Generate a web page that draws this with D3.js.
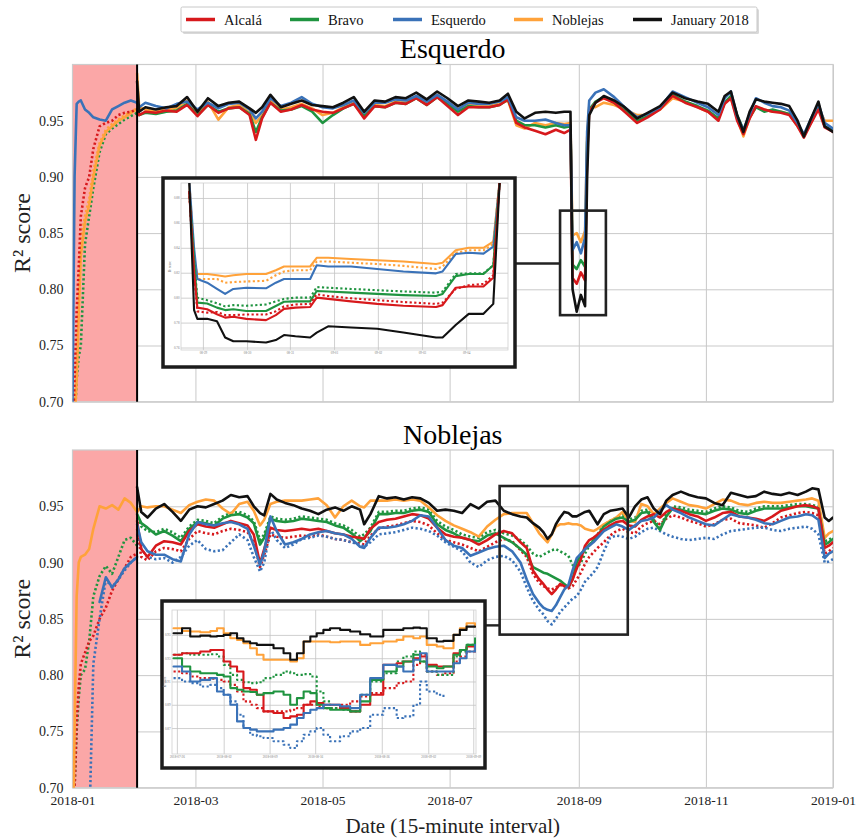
<!DOCTYPE html>
<html><head><meta charset="utf-8">
<script src="https://cdn.jsdelivr.net/npm/d3@7"></script>
<style>
body{margin:0;background:#fff}
svg{display:block}
text{font-family:"Liberation Serif","DejaVu Serif",serif}
</style>
</head><body>
<svg id="c" width="860" height="840"></svg>
<script>
// ---------------- DATA ----------------
const NAMES = ["Alcalá","Bravo","Esquerdo","Noblejas","January 2018"];
const COLORS = ["#d7191c","#1f9440","#3a72b8","#ffa23a","#111111"];
const Y_TICKS = [0.70,0.75,0.80,0.85,0.90,0.95];
const Y_DOMAIN = [0.70,1.00];
const TRAIN_END_DAY = 31; // 2018-02-01

// ----- Esquerdo panel -----
const TOP_JAN_DAYS = [0,1,2,3,4,6,8,10,13,16,19,22,25,28,31];
const topJanEsquerdo    = [0.70,0.90,0.965,0.967,0.968,0.960,0.957,0.953,0.951,0.950,0.960,0.963,0.966,0.968,0.966];
const topJanAlcalaDot   = [0.66,0.72,0.78,0.82,0.865,0.890,0.900,0.925,0.945,0.948,0.950,0.955,0.957,0.958,0.960];
const topJanNoblejas    = [0.62,0.68,0.72,0.78,0.83,0.86,0.875,0.900,0.928,0.940,0.945,0.950,0.953,0.957,0.960];
const topJanNoblejasDot = [0.64,0.70,0.74,0.80,0.845,0.865,0.880,0.905,0.930,0.942,0.947,0.951,0.955,0.958,0.961];
const topJanBravoDot    = [0.62,0.68,0.72,0.74,0.75,0.84,0.865,0.890,0.922,0.938,0.943,0.947,0.951,0.954,0.957];

const TOP_DAYS = [31,32,35,40,45,50,55,60,65,70,75,80,85,88,91,95,100,105,110,115,120,125,130,135,140,145,150,155,160,165,170,175,180,185,190,195,200,205,209,213,217,222,227,232,236,239,240,242,244,246,247,248,251,255,260,265,271,276,282,288,294,300,305,310,313,316,319,322,325,328,332,336,340,344,348,351,354,358,361,365];
const topJanuary = [0.985,0.958,0.962,0.960,0.962,0.963,0.971,0.958,0.970,0.963,0.966,0.967,0.961,0.957,0.962,0.973,0.962,0.965,0.968,0.964,0.963,0.962,0.966,0.971,0.958,0.968,0.967,0.971,0.970,0.975,0.969,0.976,0.970,0.963,0.968,0.967,0.966,0.968,0.974,0.958,0.952,0.957,0.958,0.957,0.958,0.958,0.800,0.780,0.795,0.785,0.900,0.955,0.966,0.972,0.968,0.962,0.952,0.957,0.963,0.975,0.970,0.967,0.965,0.958,0.972,0.976,0.955,0.940,0.958,0.969,0.967,0.966,0.965,0.963,0.950,0.936,0.950,0.967,0.945,0.940];
const topEsquerdo = [0.966,0.962,0.966,0.963,0.961,0.965,0.967,0.960,0.966,0.961,0.965,0.966,0.960,0.952,0.958,0.970,0.963,0.966,0.971,0.965,0.962,0.961,0.964,0.968,0.957,0.966,0.966,0.969,0.968,0.972,0.967,0.973,0.967,0.960,0.966,0.965,0.965,0.967,0.971,0.953,0.950,0.950,0.951,0.948,0.946,0.946,0.835,0.842,0.832,0.846,0.940,0.968,0.975,0.978,0.971,0.962,0.953,0.956,0.962,0.976,0.971,0.966,0.962,0.955,0.970,0.976,0.954,0.942,0.956,0.970,0.966,0.963,0.962,0.959,0.948,0.938,0.950,0.965,0.948,0.943];
const topAlcala = [0.960,0.955,0.958,0.957,0.959,0.958,0.964,0.954,0.964,0.957,0.961,0.962,0.955,0.933,0.952,0.966,0.958,0.960,0.964,0.960,0.958,0.957,0.961,0.965,0.952,0.963,0.962,0.966,0.965,0.970,0.964,0.971,0.963,0.955,0.962,0.962,0.962,0.964,0.969,0.948,0.944,0.941,0.938,0.942,0.939,0.942,0.810,0.805,0.815,0.808,0.920,0.958,0.966,0.970,0.966,0.958,0.948,0.953,0.960,0.972,0.966,0.962,0.958,0.950,0.965,0.970,0.950,0.938,0.952,0.963,0.960,0.958,0.957,0.955,0.945,0.935,0.946,0.960,0.944,0.940];
const topBravo = [0.957,0.955,0.957,0.956,0.958,0.959,0.965,0.955,0.964,0.958,0.961,0.962,0.956,0.940,0.953,0.966,0.959,0.960,0.963,0.958,0.948,0.955,0.961,0.965,0.954,0.963,0.962,0.966,0.965,0.970,0.964,0.971,0.965,0.958,0.963,0.962,0.962,0.964,0.969,0.950,0.946,0.946,0.944,0.946,0.944,0.945,0.822,0.818,0.826,0.820,0.930,0.960,0.967,0.971,0.966,0.959,0.950,0.954,0.961,0.973,0.967,0.963,0.959,0.952,0.966,0.972,0.955,0.942,0.953,0.962,0.958,0.960,0.958,0.956,0.946,0.936,0.947,0.962,0.945,0.941];
const topNoblejas = [0.992,0.962,0.960,0.958,0.960,0.961,0.968,0.956,0.967,0.951,0.962,0.964,0.957,0.948,0.955,0.968,0.960,0.962,0.965,0.961,0.955,0.957,0.962,0.967,0.955,0.964,0.963,0.967,0.966,0.971,0.965,0.973,0.966,0.960,0.964,0.963,0.963,0.965,0.968,0.946,0.943,0.948,0.946,0.948,0.947,0.948,0.848,0.850,0.842,0.852,0.935,0.962,0.962,0.966,0.964,0.960,0.955,0.955,0.960,0.970,0.967,0.962,0.958,0.952,0.966,0.970,0.952,0.936,0.953,0.962,0.960,0.958,0.958,0.956,0.945,0.937,0.948,0.962,0.950,0.950];

// zoom window of the Esquerdo panel (days, R²)
const topZoomDays = [234,256];
const topZoomVals = [0.777,0.870];
const topConnectVal = 0.823;

// inset of the Esquerdo panel (x: % of zoom window)
const TI_T = [2.5,4,5,8,11,13.5,16,20,26,29,31.5,35,39.5,41.5,45,52,60,68,78,80,84,88,92.5,95.5,97.5];
const tiJanuary    = [0.895,0.790,0.783,0.783,0.781,0.768,0.765,0.765,0.764,0.766,0.770,0.769,0.768,0.772,0.777,0.776,0.775,0.772,0.768,0.768,0.778,0.787,0.787,0.795,0.895];
const tiNoblejas   = [0.895,0.830,0.819,0.819,0.818,0.817,0.818,0.819,0.819,0.822,0.825,0.825,0.825,0.832,0.832,0.831,0.830,0.829,0.827,0.828,0.838,0.840,0.840,0.845,0.895];
const tiNoblejasDot= [0.895,0.830,0.815,0.815,0.815,0.812,0.8125,0.813,0.8135,0.818,0.821,0.822,0.822,0.829,0.829,0.828,0.827,0.8255,0.823,0.825,0.836,0.838,0.838,0.843,0.895];
const tiEsquerdo   = [0.895,0.840,0.815,0.812,0.807,0.803,0.807,0.808,0.8075,0.812,0.815,0.815,0.815,0.826,0.825,0.825,0.823,0.821,0.8195,0.821,0.835,0.836,0.8353,0.841,0.895];
const tiBravo      = [0.885,0.830,0.796,0.7953,0.792,0.790,0.7907,0.7893,0.7893,0.7933,0.7967,0.797,0.797,0.8053,0.805,0.804,0.803,0.802,0.8013,0.803,0.8173,0.819,0.819,0.826,0.895];
const tiBravoDot   = [0.885,0.830,0.800,0.798,0.7955,0.793,0.794,0.7935,0.7945,0.797,0.799,0.800,0.800,0.8085,0.808,0.807,0.806,0.805,0.804,0.805,0.819,0.8195,0.8195,0.826,0.895];
const tiAlcala     = [0.885,0.820,0.792,0.7907,0.7867,0.784,0.7847,0.783,0.782,0.786,0.791,0.792,0.7925,0.800,0.799,0.797,0.795,0.7935,0.7925,0.794,0.808,0.809,0.809,0.816,0.895];
const tiAlcalaDot  = [0.885,0.820,0.789,0.788,0.7885,0.786,0.786,0.7865,0.7865,0.789,0.793,0.7945,0.795,0.8027,0.8013,0.7995,0.798,0.7965,0.795,0.796,0.807,0.810,0.811,0.818,0.895];
const TI_Y_DOMAIN = [0.758,0.892];
const TI_Y_TICKS = [0.76,0.78,0.80,0.82,0.84,0.86,0.88];
const TI_X_TICKS = [6.7,20.2,33.3,46.8,60.2,73.7,87.2];
const TI_X_LABELS = ["08-29","08-30","08-31","09-01","09-02","09-03","09-04"];

// ----- Noblejas panel -----
const BOT_JAN_DAYS = [0,1,2,3,4,6,8,10,13,16,19,22,25,28,31];
const botJanNoblejas    = [0.62,0.75,0.87,0.900,0.905,0.907,0.912,0.930,0.950,0.948,0.951,0.947,0.957,0.953,0.945];
const botJanBravoDot    = [0.62,0.70,0.75,0.78,0.80,0.805,0.830,0.870,0.888,0.897,0.890,0.905,0.920,0.922,0.915];
const botJanAlcalaDot   = [0.62,0.70,0.76,0.79,0.81,0.82,0.83,0.835,0.850,0.860,0.875,0.885,0.895,0.905,0.908];
const botJanEsquerdoDot = [null,null,null,null,null,null,0.66,0.81,0.850,0.885,0.878,0.885,0.893,0.900,0.905];
const botJanEsquerdo    = [null,null,null,null,null,null,null,null,0.865,0.887,0.878,0.885,0.895,0.900,0.905];

const BOT_DAYS = [31,33,36,40,44,48,52,56,60,64,68,72,76,80,84,87,90,92,95,98,102,106,110,114,118,122,126,130,134,138,140,143,147,151,155,159,163,167,171,175,179,183,187,191,195,199,203,207,211,215,218,221,224,226,228,230,232,234,236,238,240,242,244,246,248,250,252,255,258,261,264,267,270,273,276,279,282,285,288,292,296,300,304,308,312,316,320,324,328,332,336,340,344,348,352,355,358,361,363,365];
const botJanuary = [0.967,0.945,0.940,0.948,0.952,0.945,0.937,0.947,0.950,0.949,0.952,0.955,0.960,0.958,0.959,0.950,0.944,0.942,0.961,0.956, 0.953,0.951,0.948,0.946,0.943,0.947,0.949,0.946,0.950,0.947, 0.934,0.943,0.959, 0.957,0.958,0.956,0.958,0.957,0.953,0.946,0.947,0.946,0.944,0.952,0.948,0.954,0.955,0.946,0.943,0.941, 0.940,0.935,0.931, 0.927,0.921,0.925,0.934,0.940,0.945,0.944,0.941,0.941,0.943,0.945,0.946,0.940,0.934, 0.943,0.946,0.947,0.948,0.940,0.950,0.956,0.958,0.948,0.943,0.955,0.960, 0.963,0.960,0.958,0.957,0.953,0.951,0.962,0.960,0.958,0.959,0.963,0.961,0.960,0.962,0.960,0.963, 0.966,0.965,0.940,0.937,0.940];
const botNoblejas = [0.945,0.950,0.949,0.950,0.950,0.947,0.944,0.951,0.954,0.956,0.955,0.948,0.943,0.952,0.954,0.946,0.933,0.938,0.952,0.954, 0.955,0.955,0.955,0.956,0.957,0.951,0.940,0.950,0.955,0.950, 0.949,0.955,0.955, 0.955,0.956,0.955,0.956,0.955,0.949,0.942,0.937,0.933,0.930,0.927,0.923,0.932,0.938,0.943,0.944,0.944, 0.944,0.935,0.926, 0.922,0.918,0.925,0.932,0.934,0.934,0.935,0.934,0.934,0.933,0.930,0.929,0.928,0.930, 0.934,0.937,0.940,0.945,0.937,0.936,0.952,0.950,0.943,0.948,0.953,0.957, 0.954,0.951,0.950,0.948,0.952,0.956,0.955,0.952,0.951,0.953,0.954,0.953,0.953,0.954,0.955,0.956, 0.957,0.955,0.922,0.926,0.928];
const botBravo = [0.943,0.935,0.931,0.925,0.928,0.924,0.919,0.930,0.936,0.935,0.933,0.939,0.942,0.943,0.940,0.935,0.916,0.922,0.939,0.937, 0.936,0.937,0.939,0.938,0.937,0.936,0.933,0.931,0.926,0.919, 0.922,0.928,0.943, 0.943,0.944,0.944,0.946,0.947,0.945,0.934,0.929,0.926,0.922,0.920,0.919,0.924,0.926,0.922,0.918,0.912, 0.907,0.896,0.893, 0.891,0.890,0.888,0.886,0.884,0.881,0.878,0.885,0.900,0.907,0.912,0.916,0.919,0.924, 0.932,0.936,0.939,0.940,0.936,0.938,0.944,0.945,0.936,0.929,0.941,0.948, 0.947,0.945,0.944,0.943,0.946,0.948,0.947,0.944,0.943,0.946,0.948,0.948,0.948,0.949,0.950,0.950, 0.949,0.948,0.916,0.918,0.921];
const botAlcala = [0.937,0.912,0.905,0.915,0.919,0.918,0.916,0.928,0.934,0.932,0.931,0.934,0.937,0.935,0.933,0.925,0.899,0.912,0.931,0.929, 0.928,0.929,0.930,0.929,0.930,0.928,0.926,0.925,0.923,0.922, 0.921,0.930,0.936, 0.938,0.939,0.941,0.943,0.942,0.939,0.931,0.925,0.923,0.922,0.920,0.916,0.920,0.925,0.928,0.926,0.918, 0.913,0.893,0.885, 0.881,0.876,0.872,0.876,0.881,0.879,0.878,0.885,0.895,0.903,0.915,0.920,0.922,0.925, 0.929,0.933,0.936,0.937,0.933,0.932,0.938,0.941,0.943,0.940,0.945,0.948, 0.946,0.943,0.941,0.937,0.940,0.944,0.945,0.941,0.940,0.939,0.937,0.941,0.946,0.948,0.950,0.951, 0.950,0.948,0.913,0.915,0.918];
const botEsquerdo = [0.934,0.918,0.910,0.907,0.907,0.903,0.901,0.925,0.936,0.934,0.933,0.935,0.936,0.934,0.930,0.915,0.898,0.910,0.941,0.928, 0.916,0.918,0.921,0.925,0.927,0.928,0.926,0.925,0.921,0.914, 0.913,0.922,0.931, 0.931,0.932,0.934,0.937,0.942,0.941,0.931,0.920,0.915,0.913,0.906,0.909,0.912,0.914,0.915,0.910,0.900, 0.885,0.872,0.864, 0.860,0.858,0.857,0.862,0.869,0.876,0.880,0.893,0.904,0.908,0.912,0.915,0.918,0.922, 0.928,0.931,0.934,0.932,0.929,0.933,0.937,0.938,0.940,0.946,0.951,0.947, 0.944,0.940,0.937,0.934,0.933,0.938,0.943,0.941,0.940,0.938,0.935,0.934,0.937,0.940,0.941,0.943, 0.942,0.938,0.904,0.908,0.910];
const botEsquerdoDot = [0.925,0.912,0.905,0.903,0.904,0.900,0.905,0.915,0.920,0.912,0.910,0.911,0.918,0.925,0.920,0.905,0.892,0.900,0.930,0.920, 0.913,0.916,0.921,0.922,0.924,0.923,0.921,0.920,0.918,0.916, 0.914,0.918,0.925, 0.926,0.927,0.929,0.931,0.930,0.928,0.924,0.918,0.914,0.910,0.900,0.896,0.902,0.905,0.906,0.902,0.892, 0.878,0.866,0.858, 0.854,0.848,0.845,0.850,0.856,0.860,0.864,0.868,0.870,0.876,0.883,0.887,0.891,0.896, 0.910,0.922,0.924,0.923,0.921,0.923,0.927,0.930,0.931,0.928,0.925,0.923, 0.921,0.920,0.921,0.922,0.921,0.925,0.928,0.929,0.930,0.931,0.931,0.929,0.928,0.930,0.931,0.932, 0.930,0.925,0.900,0.901,0.903];
const botAlcalaDot = [0.930,0.905,0.902,0.910,0.913,0.912,0.910,0.921,0.928,0.926,0.925,0.928,0.930,0.929,0.927,0.918,0.896,0.907,0.925,0.923, 0.922,0.923,0.924,0.923,0.925,0.923,0.921,0.920,0.918,0.917, 0.916,0.924,0.930, 0.932,0.933,0.935,0.937,0.936,0.933,0.926,0.920,0.918,0.916,0.913,0.910,0.914,0.918,0.921,0.919,0.911, 0.905,0.890,0.882, 0.879,0.877,0.876,0.878,0.880,0.879,0.877,0.879,0.885,0.891,0.899,0.905,0.909,0.913, 0.918,0.924,0.928,0.930,0.927,0.926,0.932,0.935,0.937,0.934,0.939,0.942, 0.940,0.937,0.935,0.932,0.934,0.938,0.939,0.935,0.934,0.933,0.931,0.935,0.940,0.942,0.944,0.945, 0.944,0.942,0.908,0.910,0.913];
const botBravoDot = [0.940,0.932,0.928,0.927,0.930,0.927,0.922,0.932,0.938,0.937,0.935,0.941,0.944,0.945,0.942,0.937,0.920,0.925,0.941,0.939, 0.938,0.939,0.941,0.940,0.939,0.938,0.935,0.933,0.929,0.923, 0.925,0.931,0.945, 0.945,0.946,0.946,0.948,0.949,0.947,0.937,0.932,0.929,0.925,0.923,0.922,0.927,0.929,0.926,0.924,0.920, 0.915,0.908,0.905, 0.907,0.909,0.911,0.912,0.910,0.908,0.906,0.898,0.895,0.900,0.908,0.915,0.920,0.925, 0.933,0.937,0.940,0.942,0.938,0.940,0.946,0.947,0.938,0.931,0.943,0.950, 0.949,0.947,0.946,0.945,0.948,0.950,0.949,0.946,0.945,0.948,0.950,0.950,0.950,0.951,0.952,0.952, 0.951,0.950,0.919,0.920,0.923];

const botZoomDays = [205,266.5];
const botZoomVals = [0.836,0.968];
const botConnectVal = 0.8442;

const BI_T = [0.5,3.3,6,9.3,12.6,14.8,17,19.2,21.4,23.5,25.7,27.9,30.1,33.4,36.7,38.9,41.1,43.3,45.5,47.6,49.8,52,55.3,58.6,61.9,65.2,69.5,73.9,76.1,79.4,81.6,83.8,87.1,89.3,92.6,94.7,96.9,99.7];
const biJanuary = [0.9514,0.9557,0.9486,0.9494,0.9486,0.9491,0.950,0.9514,0.9471,0.9443,0.9429,0.9414,0.9414,0.9386,0.9343,0.9286,0.9343,0.9443,0.9486,0.9514,0.9543,0.9557,0.9543,0.9529,0.9506,0.9486,0.9543,0.9543,0.9557,0.9563,0.9557,0.9471,0.9443,0.9449,0.950,0.9543,0.9571,0.9571];
const biNoblejas = [0.9557,0.9534,0.9529,0.9523,0.9534,0.9557,0.9514,0.9471,0.9457,0.9429,0.9386,0.9329,0.9286,0.9286,0.9286,0.9271,0.930,0.9443,0.9443,0.9443,0.9443,0.9437,0.9443,0.9443,0.9414,0.9429,0.9443,0.9457,0.9486,0.9471,0.9486,0.9414,0.940,0.9386,0.950,0.9557,0.960,0.9571];
const biAlcala = [0.9329,0.9343,0.9343,0.9357,0.9371,0.9371,0.9271,0.9229,0.9186,0.9043,0.9029,0.8986,0.8843,0.8829,0.8786,0.880,0.8814,0.890,0.8929,0.8914,0.890,0.890,0.8871,0.8843,0.890,0.8986,0.9243,0.9257,0.9271,0.930,0.9314,0.9243,0.9229,0.9229,0.9343,0.9371,0.940,0.9414];
const biAlcalaDot = [0.9186,0.9171,0.9143,0.9129,0.9123,0.9114,0.910,0.9071,0.9014,0.8929,0.890,0.8871,0.8843,0.8843,0.8843,0.8857,0.8871,0.890,0.890,0.8886,0.8871,0.8871,0.890,0.8929,0.8971,0.900,0.9043,0.9086,0.910,0.9243,0.9329,0.9186,0.9157,0.9171,0.9271,0.9314,0.9357,0.9386];
const biBravo = [0.930,0.9229,0.9186,0.9171,0.9171,0.9157,0.9143,0.9043,0.9029,0.9014,0.9009,0.8986,0.900,0.9014,0.8986,0.890,0.8957,0.9014,0.900,0.890,0.8871,0.8857,0.8857,0.8843,0.8929,0.9114,0.9186,0.9229,0.9271,0.9329,0.9271,0.9229,0.9214,0.9229,0.9329,0.9371,0.9414,0.9471];
const biBravoDot = [0.9329,0.9343,0.9329,0.9329,0.9334,0.9314,0.9243,0.9157,0.9114,0.9094,0.9086,0.9094,0.9129,0.9157,0.9186,0.9171,0.9157,0.9163,0.9143,0.9014,0.8929,0.8871,0.8857,0.8843,0.8986,0.910,0.9171,0.9271,0.9314,0.9357,0.9271,0.9186,0.9157,0.9157,0.9314,0.9357,0.9414,0.9443];
const biEsquerdo = [0.9229,0.9186,0.910,0.9114,0.9129,0.9014,0.8986,0.890,0.8757,0.870,0.8686,0.8671,0.8671,0.8686,0.870,0.8729,0.8786,0.8829,0.8857,0.8871,0.890,0.890,0.8886,0.8871,0.8986,0.9129,0.9243,0.9229,0.9186,0.9286,0.9343,0.9186,0.9186,0.9186,0.9257,0.930,0.9357,0.9414];
const biEsquerdoDot = [0.9129,0.910,0.9086,0.9057,0.9071,0.9043,0.8986,0.8929,0.8814,0.870,0.8643,0.8629,0.8614,0.8586,0.8557,0.8529,0.8586,0.8643,0.8671,0.870,0.8643,0.8586,0.8629,0.8671,0.870,0.8814,0.8871,0.8786,0.880,0.890,0.910,0.9014,0.8986,0.8957,null,null,null,null];
const BI_Y_DOMAIN = [0.8477,0.9714];
const BI_Y_TICKS = [0.87,0.89,0.91,0.93,0.95];
const BI_X_TICKS = [1.6,17,32.1,47.1,69,84.3,99.1];
const BI_X_LABELS = ["2018-07-26","2018-08-02","2018-08-09","2018-08-16","2018-08-26","2018-09-02","2018-09-09"];

// ---------------- LAYOUT ----------------
const SERIF = '"Liberation Serif","DejaVu Serif",serif';
const X0 = 72.5, X1 = 833;
const svg = d3.select("#c");
const defs = svg.append("defs");
const t0 = Date.UTC(2018,0,1);
const dayDate = d => new Date(t0 + d*864e5);
const x = d3.scaleUtc().domain([new Date(t0), new Date(Date.UTC(2019,0,1))]).range([X0,X1]);
const C = {A:COLORS[0],B:COLORS[1],E:COLORS[2],N:COLORS[3],J:COLORS[4]};

function drawLines(g, xs, ys, xv, list, width, curve){
  list.forEach(s=>{
    const pts = s.t.map((t,i)=>[t, s.v[i]]);
    const ln = d3.line().defined(p=>p[1]!=null).x(p=>xs(xv(p[0]))).y(p=>ys(p[1])).curve(curve||d3.curveLinear);
    g.append("path").attr("d", ln(pts)).attr("fill","none").attr("stroke", s.c)
      .attr("stroke-width", width).attr("stroke-linejoin","round").attr("stroke-linecap", s.d ? "butt" : "round")
      .attr("stroke-dasharray", s.d ? "2.2,2.4" : null);
  });
}

function drawInset(I, idx){
  const g = svg.append("g");
  g.append("rect").attr("x",I.ox).attr("y",I.oy).attr("width",I.ow).attr("height",I.oh)
    .attr("fill","#fff").attr("stroke","#1c1c1c").attr("stroke-width",3.5);
  const xs = d3.scaleLinear().domain([0,100]).range([I.x0,I.x1]);
  const ys = d3.scaleLinear().domain(I.yDomain).range([I.y1,I.y0]);
  g.append("g").attr("transform",`translate(${I.x0},0)`)
    .call(d3.axisLeft(ys).tickValues(I.yTicks).tickSize(-(I.x1-I.x0)).tickFormat(""))
    .call(a=>{a.select(".domain").remove(); a.selectAll("line").attr("stroke","#c4c4c4").attr("stroke-width",0.8);});
  g.append("g").attr("transform",`translate(0,${I.y1})`)
    .call(d3.axisBottom(xs).tickValues(I.xTicks).tickSize(-(I.y1-I.y0)).tickFormat(""))
    .call(a=>{a.select(".domain").remove(); a.selectAll("line").attr("stroke","#c4c4c4").attr("stroke-width",0.8);});
  g.append("rect").attr("x",I.x0).attr("y",I.y0).attr("width",I.x1-I.x0).attr("height",I.y1-I.y0)
    .attr("fill","none").attr("stroke","#d0d0d0").attr("stroke-width",0.8);
  // tiny tick labels
  g.append("g").attr("transform",`translate(${I.x0},0)`)
    .call(d3.axisLeft(ys).tickValues(I.yTicks).tickSize(0).tickPadding(1.5).tickFormat(d3.format(".2f")))
    .call(a=>{a.select(".domain").remove(); a.selectAll("text").attr("font-size",3.2).attr("fill","#777").attr("font-family","Liberation Sans, sans-serif");});
  g.append("g").attr("transform",`translate(0,${I.y1})`)
    .call(d3.axisBottom(xs).tickValues(I.xTicks).tickSize(0).tickPadding(1.5).tickFormat((d,i)=>I.xLabels[i]))
    .call(a=>{a.select(".domain").remove(); a.selectAll("text").attr("font-size",3.2).attr("fill","#777").attr("font-family","Liberation Sans, sans-serif");});
  g.append("text").attr("transform",`translate(${I.labX},${(I.y0+I.y1)/2}) rotate(-90)`)
    .attr("text-anchor","middle").attr("font-size",3.2).attr("fill","#777").attr("font-family",SERIF).text("R² score");
  const cid = "iclip"+idx;
  defs.append("clipPath").attr("id",cid).append("rect").attr("x",I.x0).attr("y",I.y0).attr("width",I.x1-I.x0).attr("height",I.y1-I.y0);
  const lg = g.append("g").attr("clip-path",`url(#${cid})`);
  drawLines(lg, xs, ys, t=>t, I.series, 2.1, I.curve);
}

function drawPanel(P, idx){
  const ys = d3.scaleLinear().domain(Y_DOMAIN).range([P.y1,P.y0]);
  const g = svg.append("g");
  // grid
  g.append("g").attr("transform",`translate(${X0},0)`)
    .call(d3.axisLeft(ys).tickValues(Y_TICKS).tickSize(-(X1-X0)).tickFormat(""))
    .call(a=>{a.select(".domain").remove(); a.selectAll("line").attr("stroke","#c9c9c9");});
  g.append("g").attr("transform",`translate(0,${P.y1})`)
    .call(d3.axisBottom(x).ticks(d3.utcMonth.every(2)).tickSize(-(P.y1-P.y0)).tickFormat(""))
    .call(a=>{a.select(".domain").remove(); a.selectAll("line").attr("stroke","#c9c9c9");});
  // training period shading
  g.append("rect").attr("x",x(dayDate(0))).attr("y",P.y0).attr("width",x(dayDate(TRAIN_END_DAY))-x(dayDate(0)))
    .attr("height",P.y1-P.y0).attr("fill","#fba7a7");
  g.append("rect").attr("x",X0).attr("y",P.y0).attr("width",X1-X0).attr("height",P.y1-P.y0)
    .attr("fill","none").attr("stroke","#cccccc").attr("stroke-width",1.2);
  // lines
  const cid = "clip"+idx;
  defs.append("clipPath").attr("id",cid).append("rect").attr("x",X0).attr("y",P.y0).attr("width",X1-X0).attr("height",P.y1-P.y0);
  const lg = g.append("g").attr("clip-path",`url(#${cid})`);
  drawLines(lg, x, ys, dayDate, P.series, 2.6);
  // end of training
  g.append("line").attr("x1",x(dayDate(TRAIN_END_DAY))).attr("x2",x(dayDate(TRAIN_END_DAY)))
    .attr("y1",P.y0).attr("y2",P.y1).attr("stroke","#000").attr("stroke-width",2);
  // y tick labels
  g.append("g").attr("transform",`translate(${X0},0)`)
    .call(d3.axisLeft(ys).tickValues(Y_TICKS).tickSize(0).tickPadding(9).tickFormat(d3.format(".2f")))
    .call(a=>{a.attr("font-family",SERIF); a.select(".domain").remove(); a.selectAll("text").attr("font-size",14).attr("fill","#222").attr("font-family",SERIF);});
  if (P.showX){
    g.append("g").attr("transform",`translate(0,${P.y1})`)
      .call(d3.axisBottom(x).ticks(d3.utcMonth.every(2)).tickSize(0).tickPadding(8).tickFormat(d3.utcFormat("%Y-%m")))
      .call(a=>{a.attr("font-family",SERIF); a.select(".domain").remove(); a.selectAll("text").attr("font-size",13.5).attr("fill","#222").attr("font-family",SERIF);});
  }
  // title & y label
  g.append("text").attr("x",(X0+X1)/2).attr("y",P.titleY).attr("text-anchor","middle")
    .attr("font-size",28).attr("fill","#000").attr("font-family",SERIF).text(P.title);
  g.append("text").attr("transform",`translate(30,${(P.y0+P.y1)/2}) rotate(-90)`).attr("text-anchor","middle")
    .attr("font-size",24).attr("fill","#222").attr("font-family",SERIF).text("R² score");
  // zoom rectangle + connector
  const zx0 = x(dayDate(P.zoomDays[0])), zx1 = x(dayDate(P.zoomDays[1]));
  const zy0 = ys(P.zoomVals[1]), zy1 = ys(P.zoomVals[0]);
  g.append("rect").attr("x",zx0).attr("y",zy0).attr("width",zx1-zx0).attr("height",zy1-zy0)
    .attr("fill","none").attr("stroke","#222").attr("stroke-width",2.6);
  g.append("line").attr("x1",P.inset.ox+P.inset.ow).attr("x2",zx0).attr("y1",ys(P.connectVal)).attr("y2",ys(P.connectVal))
    .attr("stroke","#222").attr("stroke-width",2.4);
  drawInset(P.inset, idx);
}

const S = (t,v,c,d)=>({t,v,c,d});

drawPanel({
  title:"Esquerdo", titleY:58, y0:64.5, y1:401.7, showX:false,
  zoomDays:topZoomDays, zoomVals:topZoomVals, connectVal:topConnectVal,
  series:[
    S(TOP_JAN_DAYS,topJanNoblejasDot,C.N,true),
    S(TOP_JAN_DAYS,topJanBravoDot,C.B,true),
    S(TOP_JAN_DAYS,topJanNoblejas,C.N,false),
    S(TOP_JAN_DAYS,topJanAlcalaDot,C.A,true),
    S(TOP_JAN_DAYS,topJanEsquerdo,C.E,false),
    S(TOP_DAYS,topNoblejas,C.N,false),
    S(TOP_DAYS,topBravo,C.B,false),
    S(TOP_DAYS,topAlcala,C.A,false),
    S(TOP_DAYS,topEsquerdo,C.E,false),
    S(TOP_DAYS,topJanuary,C.J,false)
  ],
  inset:{ox:163,oy:178,ow:352,oh:189,x0:181,x1:508,y0:183,y1:350,labX:171,
    yDomain:TI_Y_DOMAIN,yTicks:TI_Y_TICKS,xTicks:TI_X_TICKS,xLabels:TI_X_LABELS,curve:d3.curveLinear,
    series:[
      S(TI_T,tiNoblejasDot,C.N,true), S(TI_T,tiNoblejas,C.N,false),
      S(TI_T,tiEsquerdo,C.E,false),
      S(TI_T,tiBravoDot,C.B,true), S(TI_T,tiBravo,C.B,false),
      S(TI_T,tiAlcalaDot,C.A,true), S(TI_T,tiAlcala,C.A,false),
      S(TI_T,tiJanuary,C.J,false)
    ]}
},0);

drawPanel({
  title:"Noblejas", titleY:444, y0:450, y1:787.7, showX:true,
  zoomDays:botZoomDays, zoomVals:botZoomVals, connectVal:botConnectVal,
  series:[
    S(BOT_JAN_DAYS,botJanBravoDot,C.B,true),
    S(BOT_JAN_DAYS,botJanAlcalaDot,C.A,true),
    S(BOT_JAN_DAYS,botJanEsquerdoDot,C.E,true),
    S(BOT_JAN_DAYS,botJanEsquerdo,C.E,false),
    S(BOT_JAN_DAYS,botJanNoblejas,C.N,false),
    S(BOT_DAYS,botBravoDot,C.B,true),
    S(BOT_DAYS,botAlcalaDot,C.A,true),
    S(BOT_DAYS,botEsquerdoDot,C.E,true),
    S(BOT_DAYS,botNoblejas,C.N,false),
    S(BOT_DAYS,botBravo,C.B,false),
    S(BOT_DAYS,botAlcala,C.A,false),
    S(BOT_DAYS,botEsquerdo,C.E,false),
    S(BOT_DAYS,botJanuary,C.J,false)
  ],
  inset:{ox:162,oy:601,ow:323,oh:167,x0:172,x1:476,y0:610,y1:754,labX:166,
    yDomain:BI_Y_DOMAIN,yTicks:BI_Y_TICKS,xTicks:BI_X_TICKS,xLabels:BI_X_LABELS,curve:d3.curveStepAfter,
    series:[
      S(BI_T,biEsquerdoDot,C.E,true), S(BI_T,biAlcalaDot,C.A,true), S(BI_T,biBravoDot,C.B,true),
      S(BI_T,biNoblejas,C.N,false), S(BI_T,biJanuary,C.J,false),
      S(BI_T,biAlcala,C.A,false), S(BI_T,biBravo,C.B,false), S(BI_T,biEsquerdo,C.E,false)
    ]}
},1);

// x-axis title
svg.append("text").attr("x",(X0+X1)/2).attr("y",833).attr("text-anchor","middle")
  .attr("font-size",21).attr("fill","#222").attr("font-family",SERIF).text("Date (15-minute interval)");

// legend
const LEG_SWATCH_X = [186,290,393,514,633];
const lg = svg.append("g");
lg.append("rect").attr("x",183).attr("y",9).attr("width",576).attr("height",25).attr("fill","#d9d9d9").attr("rx",1.5);
lg.append("rect").attr("x",181).attr("y",7).attr("width",576).attr("height",25).attr("fill","#fff").attr("stroke","#c8c8c8").attr("rx",1.5);
NAMES.forEach((n,i)=>{
  const sx = LEG_SWATCH_X[i];
  lg.append("line").attr("x1",sx).attr("x2",sx+29).attr("y1",19.5).attr("y2",19.5).attr("stroke",COLORS[i]).attr("stroke-width",3.5);
  lg.append("text").attr("x",sx+38).attr("y",24.5).attr("font-size",14.5).attr("fill","#111").attr("font-family",SERIF).text(n);
});
</script>
</body></html>
